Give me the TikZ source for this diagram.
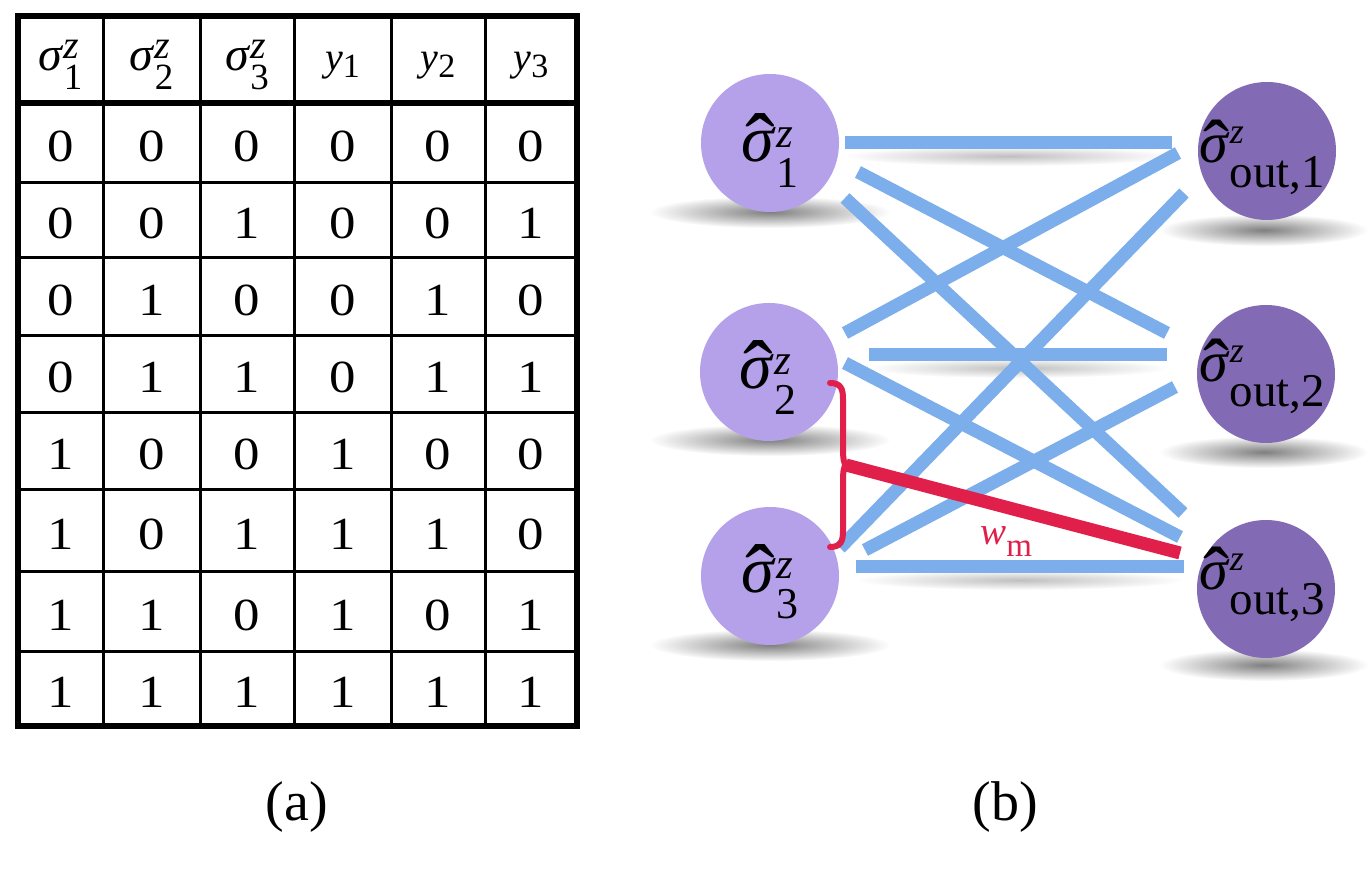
\documentclass[tikz,border=0pt]{standalone}
\usepackage{graphicx}
\usepackage[no-math]{fontspec}
\setmainfont{Liberation Serif}
\usetikzlibrary{fadings}
\tikzfading[name=softfade, inner color=transparent!0, outer color=transparent!100]
\definecolor{inC}{RGB}{181,160,234}
\definecolor{outC}{RGB}{130,107,180}
\definecolor{lnC}{RGB}{123,174,234}
\definecolor{rdC}{RGB}{224,32,74}
\newcommand{\fs}[1]{\fontsize{#1}{#1}\selectfont}
\newcommand{\hsig}{\ooalign{\textit{σ}\cr\hidewidth\kern0.05em\raisebox{-0.2em}{\scalebox{1.35}{ˆ}}\hidewidth\cr}}
% #1 base size, #2 sub size, #3 base, #4 sup raise, #5 sub drop, #6 sub text, #7 sup size
\newcommand{\LBL}[7]{{\fs{#1}#3}{\fs{#7}\rlap{\raisebox{#4}{\textit{z}}}}{\fs{#2}\raisebox{-#5}{#6}}}
\tikzset{
  dig/.style={font=\fs{23}, anchor=base, inner sep=0pt},
  hdr/.style={anchor=base, inner sep=0pt},
  innode/.style={circle, fill=inC, minimum size=69pt, inner sep=0pt},
  outnode/.style={circle, fill=outC, minimum size=69pt, inner sep=0pt},
  wire/.style={draw=lnC, line width=6.5pt},
  redw/.style={draw=rdC, line width=6.5pt},
  nshadow/.style={fill=black, opacity=0.5, path fading=softfade},
  lshadow/.style={fill=black, opacity=0.25, path fading=softfade},
  thin/.style={line width=1.5pt},
  thick3/.style={line width=3pt},
  lab/.style={anchor=base west, inner sep=0pt},
}
\begin{document}
\begin{tikzpicture}[x=0.5pt,y=-0.5pt]
\useasboundingbox (0,0) rectangle (1372,870);
\fill[white] (0,0) rectangle (1372,870);

% ---------- (a) table ----------
\foreach \x in {103,200,294,391,485} \draw[thin] (\x,16) -- (\x,726);
\foreach \y in {183,258,336,413,490,572,652} \draw[thin] (18,\y) -- (577,\y);
\draw[thick3] (18,103) -- (577,103);
\draw[thick3] (18,16) rectangle (577,726);

\node[hdr] (h1) at (60.5,71) {\LBL{24}{18.5}{\textit{σ}}{6pt}{9.5pt}{1}{20}};
\node[hdr] (h2) at (151.5,71) {\LBL{24}{18.5}{\textit{σ}}{6pt}{9.5pt}{2}{20}};
\node[hdr] (h3) at (247,71) {\LBL{24}{18.5}{\textit{σ}}{6pt}{9.5pt}{3}{20}};
\node[hdr] (h4) at (342.5,71) {{\fs{20}\textit{y}}{\fs{17}\raisebox{-3.5pt}{1}}};
\node[hdr] (h5) at (438,71) {{\fs{20}\textit{y}}{\fs{17}\raisebox{-3.5pt}{2}}};
\node[hdr] (h6) at (531,71) {{\fs{20}\textit{y}}{\fs{17}\raisebox{-3.5pt}{3}}};

\foreach \row [count=\r] in {{0,0,0,0,0,0},{0,0,1,0,0,1},{0,1,0,0,1,0},{0,1,1,0,1,1},{1,0,0,1,0,0},{1,0,1,1,1,0},{1,1,0,1,0,1},{1,1,1,1,1,1}}{
  \foreach \v [count=\c] in \row {
    \pgfmathsetmacro\cx{{60.5,151.5,247,342.5,438,531}[\c-1]}
    \pgfmathsetmacro\cy{{143,220.5,297,374.5,451.5,531,612,689}[\r-1]}
    \node[dig] (d\r-\c) at (\cx,\cy+18.5) {\scalebox{1.15}[1]{\v}};
  }
}
\node[font=\fs{28}] (capa) at (297,807) {(a)};

% ---------- (b) network ----------
% node shadows
\fill[nshadow] (770,212) ellipse [x radius=60pt, y radius=8pt];
\fill[nshadow] (770,440) ellipse [x radius=60pt, y radius=8pt];
\fill[nshadow] (770,645) ellipse [x radius=60pt, y radius=8pt];
\fill[nshadow] (1264,230) ellipse [x radius=52pt, y radius=8pt];
\fill[nshadow] (1264,452) ellipse [x radius=52pt, y radius=8pt];
\fill[nshadow] (1264,665) ellipse [x radius=52pt, y radius=8pt];
% line shadows
\fill[lshadow] (1008,156) ellipse [x radius=82pt, y radius=5pt];
\fill[lshadow] (1018,368) ellipse [x radius=75pt, y radius=5pt];
\fill[lshadow] (1020,580) ellipse [x radius=82pt, y radius=5pt];

\node[innode] (in1) at (770,143) {};
\node[innode] (in2) at (769,372) {};
\node[innode] (in3) at (770,576) {};
\node[outnode] (out1) at (1267,151) {};
\node[outnode] (out2) at (1266,374) {};
\node[outnode] (out3) at (1266,589) {};

% wire end points
\coordinate (a1) at (845,143);  \coordinate (b1) at (1172,143);
\coordinate (a2) at (858,172);  \coordinate (b2) at (1167,333);
\coordinate (a3) at (845,198);  \coordinate (b3) at (1183,513);
\coordinate (a4) at (845,333);  \coordinate (b4) at (1178,153);
\coordinate (a5) at (869,355);  \coordinate (b5) at (1167,355);
\coordinate (a6) at (845,363);  \coordinate (b6) at (1180,537);
\coordinate (a7) at (840,548);  \coordinate (b7) at (1184,193);
\coordinate (a8) at (865,550);  \coordinate (b8) at (1175,387);
\coordinate (a9) at (856,567);  \coordinate (b9) at (1184,567);
\foreach \i in {1,...,9} \draw[wire] (a\i) -- (b\i);

% brace and highlighted weight
\coordinate (btop) at (830,383);
\coordinate (btip) at (846,465);
\coordinate (bbot) at (830,547);
\coordinate (rend) at (1180,553);
\draw[rdC, line width=3pt, line cap=round]
  (btop) .. controls (841,383) and (843,389) .. (843,399) -- (843,449)
  .. controls (843,459) and (844,464) .. (btip)
  .. controls (844,466) and (843,471) .. (843,481) -- (843,531)
  .. controls (843,541) and (841,547) .. (bbot);
\draw[redw] (btip) -- (rend);
\node[lab, text=rdC] (wm) at (980,545) {{\fs{19.5}\textit{w}}{\fs{16.5}\raisebox{-6pt}{m}}};

% node labels
\node[lab] (l1) at (741,162) {\LBL{33}{22}{\hsig}{7pt}{13pt}{1}{21.5}};
\node[lab] (l2) at (739,389) {\LBL{33}{22}{\hsig}{7pt}{13pt}{2}{21.5}};
\node[lab] (l3) at (741,593) {\LBL{33}{22}{\hsig}{7pt}{13pt}{3}{21.5}};
\node[lab] (lo1) at (1199,163) {\LBL{29}{23.5}{\hsig}{9.5pt}{12.5pt}{out,1}{18}};
\node[lab] (lo2) at (1199,382) {\LBL{29}{23.5}{\hsig}{9.5pt}{12.5pt}{out,2}{18}};
\node[lab] (lo3) at (1199,590) {\LBL{29}{23.5}{\hsig}{9.5pt}{12.5pt}{out,3}{18}};

\node[font=\fs{28}] (capb) at (1005,807) {(b)};
\end{tikzpicture}
\end{document}
